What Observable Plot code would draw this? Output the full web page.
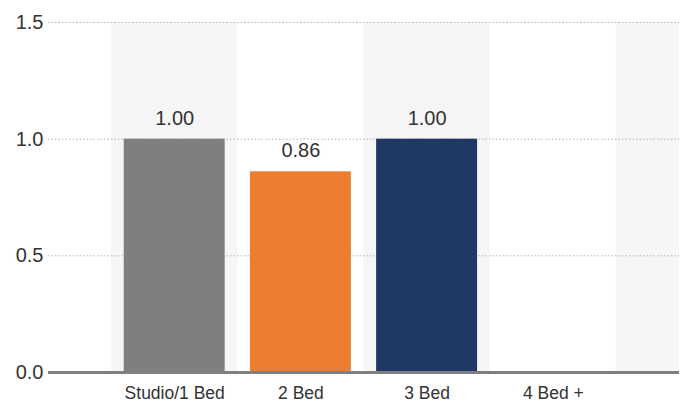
<!DOCTYPE html>
<html>
<head>
<meta charset="utf-8">
<script src="https://cdn.jsdelivr.net/npm/d3@7"></script>
<script src="https://cdn.jsdelivr.net/npm/@observablehq/plot@0.6"></script>
<style>
  html, body { margin: 0; padding: 0; background: #fff; }
  #chart svg { display: block; }
</style>
</head>
<body>
<div id="chart"></div>
<script>
// Unit types along the horizontal axis
const categories = ["Studio/1 Bed", "2 Bed", "3 Bed", "4 Bed +"];
// Ratio per unit type (no value for 4 Bed +)
const values = [1.00, 0.86, 1.00, null];
// Bar fill per unit type
const barColors = ["#7f7f7f", "#ed7d31", "#203864", "#a5a5a5"];
// Value axis ticks
const yTicks = [0, 0.5, 1.0, 1.5];

// Categories sit at integer slots 1..n; slot 0 and n+1 are padding
const rows = categories.map((c, i) => ({
  slot: i + 1, category: c, value: values[i], color: barColors[i]
})).filter(d => d.value != null);

// Alternating shaded column bands: odd slots
const bandSlots = d3.range(1, categories.length + 2, 2);

const chart = Plot.plot({
  width: 685,
  height: 403,
  marginLeft: 48,
  marginRight: 6,
  marginTop: 22,
  marginBottom: 31,
  style: { fontFamily: "'Liberation Sans', Arial, sans-serif", background: "#fff", color: "#333" },
  x: { domain: [0, categories.length + 1], axis: null, label: null },
  y: { domain: [0, 1.5], axis: null, label: null },
  marks: [
    Plot.rect(bandSlots, {
      x1: d => d - 0.5, x2: d => d + 0.5, y1: 0, y2: 1.5,
      fill: "#f6f6f6", clip: true
    }),
    Plot.ruleY(yTicks.filter(t => t > 0), {
      stroke: "#b4b4b4", strokeWidth: 1, strokeDasharray: "1.5,2"
    }),
    Plot.rect(rows, {
      x1: d => d.slot - 0.4, x2: d => d.slot + 0.4, y1: 0, y2: "value",
      fill: d => d.color
    }),
    Plot.text(rows, {
      x: "slot", y: "value", text: d => d3.format(".2f")(d.value),
      dy: -21, fontSize: 20, fill: "#333"
    }),
    Plot.ruleY([0], { stroke: "#7f7f7f", strokeWidth: 3 }),
    Plot.axisY(yTicks, {
      tickSize: 0, tickPadding: 5, tickFormat: d3.format(".1f"),
      fontSize: 20, fill: "#333", label: null
    }),
    Plot.axisX(d3.range(1, categories.length + 1), {
      tickSize: 0, tickPadding: 14, tickFormat: i => categories[i - 1],
      fontSize: 17.5, fill: "#333", label: null
    })
  ]
});

document.getElementById("chart").appendChild(chart);
</script>
</body>
</html>
